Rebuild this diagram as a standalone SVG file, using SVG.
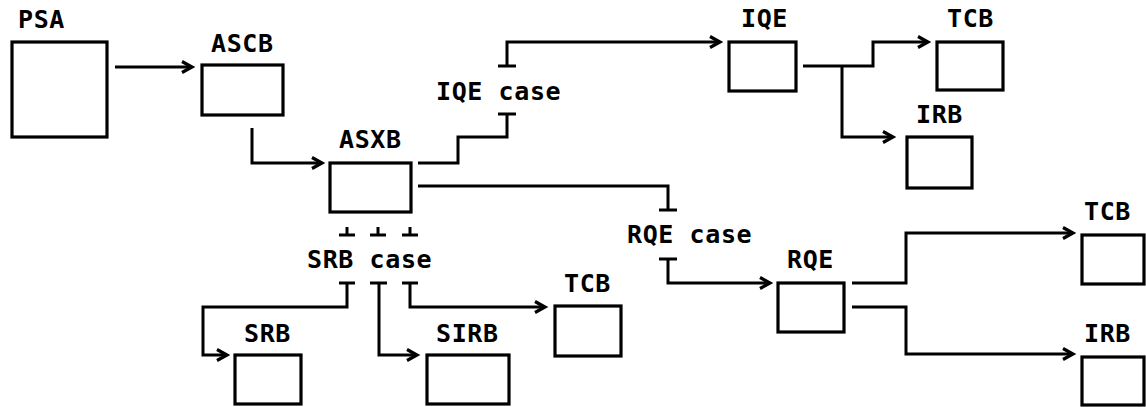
<svg xmlns="http://www.w3.org/2000/svg" width="1146" height="407" viewBox="0 0 1146 407">
<style>
.box{fill:none;stroke:#000;stroke-width:3.2}
.ln{fill:none;stroke:#000;stroke-width:3;stroke-linejoin:miter;stroke-linecap:butt}
.ar{marker-end:url(#chev)}
text{font-family:"DejaVu Sans Mono","Liberation Mono",monospace;font-weight:bold;font-size:25px;letter-spacing:0.6px;fill:#000}
</style>
<defs>
<marker id="chev" markerUnits="userSpaceOnUse" markerWidth="14" markerHeight="14" refX="11" refY="6" orient="auto" overflow="visible">
<path d="M1,0.5 L11,6 L1,11.5" fill="none" stroke="#000" stroke-width="3.2"/>
</marker>
</defs>
<rect width="1146" height="407" fill="#fff"/>
<g id="connectors">
<path class="ln ar" d="M115,67 H192"/>
<path class="ln ar" d="M252,128 V163 H322"/>
<path class="ln" d="M418,163 H458 V137 H507 V114 M498,114 H516"/>
<path class="ln ar" d="M498,66 H516 M507,66 V42 H720"/>
<path class="ln ar" d="M803,66 H873 V42 H928"/>
<path class="ln ar" d="M842,66 V137 H893"/>
<path class="ln" d="M418,186 H668 V210 M659,210 H677"/>
<path class="ln ar" d="M659,259 H677 M668,259 V283 H770"/>
<path class="ln ar" d="M852,283 H906 V233 H1073"/>
<path class="ln ar" d="M852,307 H906 V354 H1073"/>
<path class="ln" d="M347,227 V235 M339,235 H355 M378,227 V235 M370,235 H386 M410,227 V235 M402,235 H418"/>
<path class="ln ar" d="M339,283 H355 M347,283 V307 H203 V355 H227"/>
<path class="ln ar" d="M370,283 H387 M379,283 V355 H417"/>
<path class="ln ar" d="M402,283 H418 M410,283 V307 H545"/>
</g>
<g id="psa"><rect class="box" x="12" y="42" width="95" height="95"/><text x="18" y="28">PSA</text></g>
<g id="ascb"><rect class="box" x="202" y="65" width="81" height="50"/><text x="211" y="52">ASCB</text></g>
<g id="asxb"><rect class="box" x="330" y="163" width="81" height="49"/><text x="339" y="148">ASXB</text></g>
<g id="iqe-case"><text x="436" y="100">IQE case</text></g>
<g id="iqe"><rect class="box" x="729" y="42" width="67" height="49"/><text x="741" y="27">IQE</text></g>
<g id="tcb1"><rect class="box" x="937" y="42" width="66" height="48"/><text x="947" y="27">TCB</text></g>
<g id="irb1"><rect class="box" x="907" y="137" width="65" height="51"/><text x="916" y="123">IRB</text></g>
<g id="rqe-case"><text x="627" y="243">RQE case</text></g>
<g id="rqe"><rect class="box" x="778" y="283" width="66" height="49"/><text x="787" y="268">RQE</text></g>
<g id="tcb2"><rect class="box" x="1082" y="235" width="62" height="49"/><text x="1084" y="220">TCB</text></g>
<g id="irb2"><rect class="box" x="1082" y="357" width="62" height="48"/><text x="1084" y="342">IRB</text></g>
<g id="srb-case"><text x="307" y="268">SRB case</text></g>
<g id="srb"><rect class="box" x="235" y="355" width="66" height="49"/><text x="244" y="342">SRB</text></g>
<g id="sirb"><rect class="box" x="427" y="355" width="82" height="49"/><text x="436" y="342">SIRB</text></g>
<g id="tcb3"><rect class="box" x="555" y="306" width="66" height="50"/><text x="564" y="292">TCB</text></g>
</svg>
